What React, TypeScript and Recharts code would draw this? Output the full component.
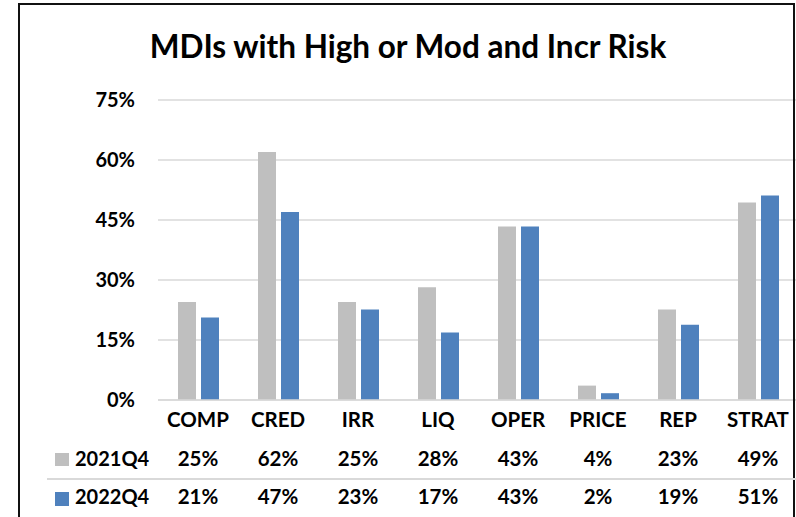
import React from 'react';
import { BarChart, Bar, XAxis, YAxis, CartesianGrid } from 'recharts';

const categories = ['COMP', 'CRED', 'IRR', 'LIQ', 'OPER', 'PRICE', 'REP', 'STRAT'];
const series2021 = [24.5, 62.0, 24.5, 28.2, 43.4, 3.6, 22.6, 49.4];
const series2022 = [20.6, 47.0, 22.6, 16.9, 43.4, 1.7, 18.8, 51.1];
const seriesNames = ['2021Q4', '2022Q4'];
const seriesColors = ['#bfbfbf', '#4f81bd'];
const yTicks = [0, 15, 30, 45, 60, 75];
const title = 'MDIs with High or Mod and Incr Risk';

const data = categories.map((c, i) => ({ cat: c, a: series2021[i], b: series2022[i] }));

const FONT = 'Lato, "Noto Sans", sans-serif';
const fmt = (v: number) => `${Math.round(v)}%`;

function CatTick(props: any) {
  const { x, y, payload } = props;
  const i = categories.indexOf(payload.value);
  const common = { fontFamily: FONT, fontWeight: 700, fontSize: 20.5, fill: '#000', textAnchor: 'middle' as const };
  return (
    <g>
      <text x={x} y={y + 27} {...common}>{payload.value}</text>
      <text x={x} y={y + 66} {...common}>{fmt(series2021[i])}</text>
      <text x={x} y={y + 104} {...common}>{fmt(series2022[i])}</text>
    </g>
  );
}

export default function App() {
  return (
    <div style={{ position: 'absolute', left: 0, top: 0, width: 796, height: 517, overflow: 'hidden', background: '#fff' }}>
      <BarChart
        width={800}
        height={517}
        data={data}
        margin={{ top: 100, right: 2, bottom: 0, left: 0 }}
        barGap={5}
      >
        <CartesianGrid vertical={false} stroke="#d9d9d9" strokeWidth={1.5} />
        <XAxis
          dataKey="cat"
          height={117}
          tickSize={0}
          tickMargin={0}
          axisLine={{ stroke: '#d9d9d9', strokeWidth: 1.5 }}
          tickLine={false}
          interval={0}
          tick={<CatTick />}
        />
        <YAxis
          width={158}
          domain={[0, 75]}
          ticks={yTicks}
          tickFormatter={(v: number) => `${v}%`}
          tickSize={0}
          tickMargin={23}
          axisLine={false}
          tickLine={false}
          tick={{ fontFamily: FONT, fontWeight: 700, fontSize: 20, fill: '#000' }}
        />
        <Bar dataKey="a" name={seriesNames[0]} fill={seriesColors[0]} barSize={18} isAnimationActive={false} />
        <Bar dataKey="b" name={seriesNames[1]} fill={seriesColors[1]} barSize={18} isAnimationActive={false} />
      </BarChart>
      <svg width={796} height={517} style={{ position: 'absolute', left: 0, top: 0, pointerEvents: 'none' }}>
        <path d="M19,517 V4 H794 V517" fill="none" stroke="#111" strokeWidth={2} />
        <text x={408} y={58} textAnchor="middle" fontFamily={FONT} fontWeight={700} fontSize={31.5} fill="#000">{title}</text>
        <line x1={47} x2={796} y1={479} y2={479} stroke="#d9d9d9" strokeWidth={2} />
        <rect x={55} y={453} width={14} height={13} fill={seriesColors[0]} />
        <rect x={55} y={492} width={14} height={14} fill={seriesColors[1]} />
        <text x={75} y={466} fontFamily={FONT} fontWeight={700} fontSize={20} fill="#000">{seriesNames[0]}</text>
        <text x={75} y={504} fontFamily={FONT} fontWeight={700} fontSize={20} fill="#000">{seriesNames[1]}</text>
      </svg>
    </div>
  );
}
